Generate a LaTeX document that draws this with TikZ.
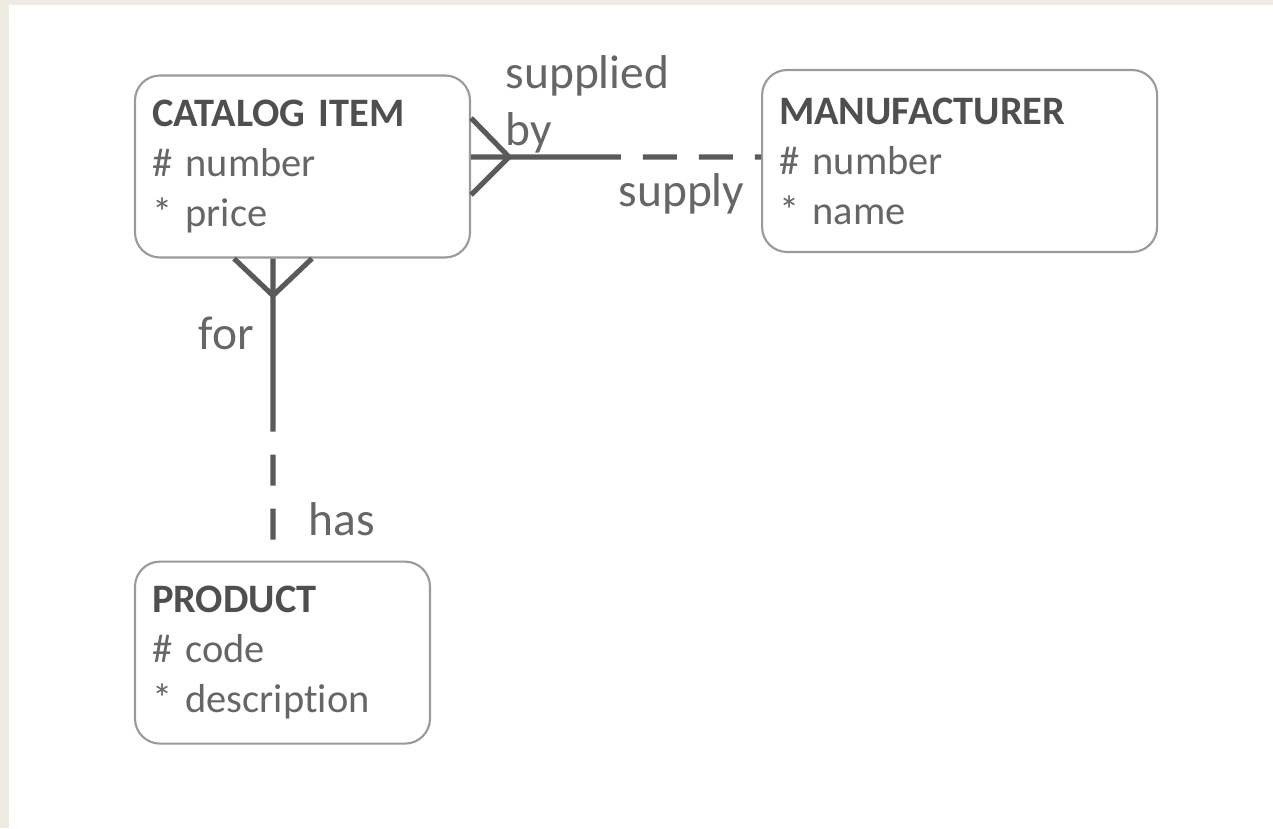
\documentclass[tikz,border=0pt]{standalone}
\usepackage{fontspec}
\setmainfont{Carlito}[Ligatures=NoCommon]
\usepackage{xcolor}
\usetikzlibrary{positioning,calc}

\definecolor{pagebeige}{HTML}{EEEBE3}
\definecolor{boxline}{HTML}{9A9A9A}
\definecolor{relline}{HTML}{5A5A5A}
\definecolor{titletext}{HTML}{4F4F4F}
\definecolor{attrtext}{HTML}{666666}

\begin{document}
\begin{tikzpicture}[
  entity/.style={draw=boxline, line width=0.6pt, rounded corners=0.25cm, align=left,
    minimum height=1.82cm, inner xsep=0.17cm, text=attrtext,
    font=\fontsize{11.5}{14.2}\selectfont},
  rel/.style={draw=relline, line width=1.45pt},
  optional/.style={rel, dash pattern=on 0.34cm off 0.22cm, dash phase=0.34cm},
  rlabel/.style={text=attrtext, inner sep=0pt, align=left,
    font=\fontsize{13.5}{16.2}\selectfont}
]
% page and margins
\fill[pagebeige] (0,0) rectangle (12.73,8.28);
\fill[white] (0.09,0) rectangle (12.73,8.23);

% entities
\node[entity, text width=3.01cm] (cat) at (3.025,6.615)
  {\textcolor{titletext}{\textbf{CATALOG ITEM}}\\\# number\\{}* price};
\node[entity, text width=3.61cm, right=2.9cm of cat, yshift=0.055cm] (man)
  {\textcolor{titletext}{\textbf{MANUFACTURER}}\\\# number\\{}* name};
\node[entity, text width=2.61cm, below=3.02cm of cat.south west, anchor=north west] (prod)
  {\textcolor{titletext}{\textbf{PRODUCT}}\\\# code\\{}* description};

% supplied by / supply
\coordinate (sj) at ($(cat.east)+(0,0.095)$);
\coordinate (mj) at (man.west |- sj);
\coordinate (sm) at ($(sj)!0.517!(mj)$);
\draw[rel] (sj) -- (sm);
\draw[optional] (sm) -- (mj);
\draw[rel] ($(sj)+(0,0.39)$) -- ($(sj)+(0.38,0)$) -- ($(sj)+(0,-0.38)$);

% for / has
\coordinate (fj) at ($(cat.south)+(-0.295,0)$);
\coordinate (pj) at (fj |- prod.north);
\coordinate (fm) at ($(fj)!0.573!(pj)$);
\draw[rel] (fj) -- (fm);
\draw[optional, dash pattern=on 0.31cm off 0.23cm, dash phase=0.31cm] (fm) -- (pj);
\draw[rel] ($(fj)+(-0.39,0)$) -- ($(fj)+(0,-0.37)$) -- ($(fj)+(0.39,0)$);

% labels
\node[rlabel, anchor=north west] (lsup) at (5.05,7.73) {supplied\\by};
\node[rlabel, anchor=base west] (lsply) at (6.18,6.21) {supply};
\node[rlabel, anchor=base west] (lfor) at (1.98,4.78) {for};
\node[rlabel, anchor=base west] (lhas) at (3.08,2.93) {has};
\end{tikzpicture}
\end{document}
